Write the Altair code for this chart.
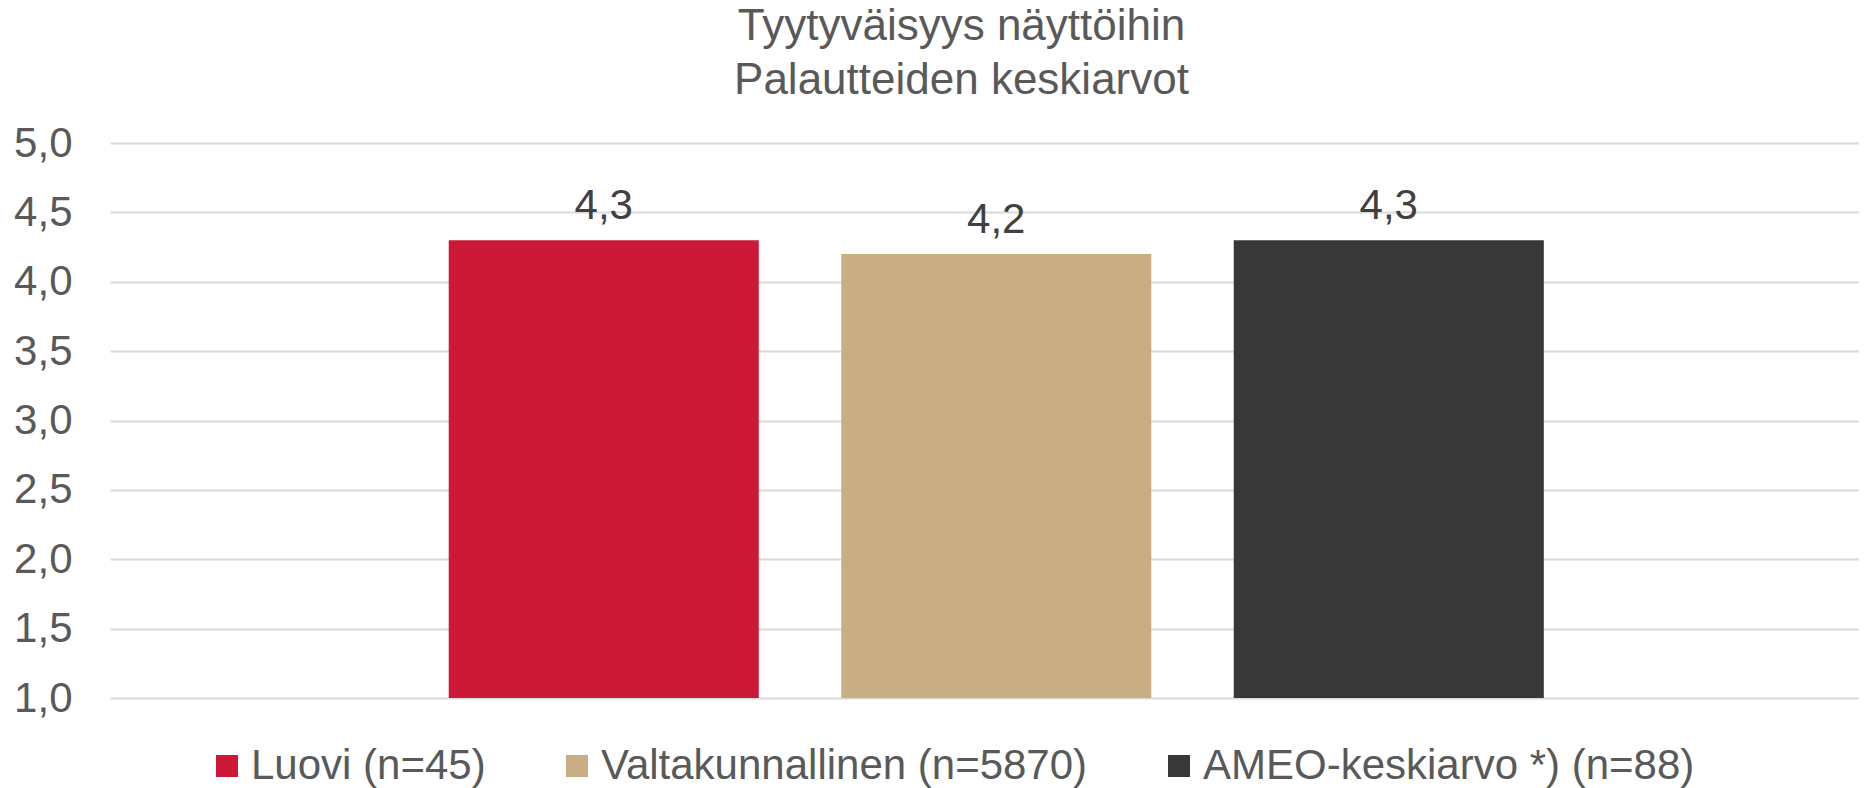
import altair as alt
import pandas as pd

# ---- data ----
series = ["Luovi (n=45)", "Valtakunnallinen (n=5870)", "AMEO-keskiarvo *) (n=88)"]
values = [4.3, 4.2, 4.3]
colors = ["#CC1937", "#C9AE84", "#383838"]
y_ticks = [1.0, 1.5, 2.0, 2.5, 3.0, 3.5, 4.0, 4.5, 5.0]
title_lines = ["Tyytyväisyys näyttöihin", "Palautteiden keskiarvot"]

df = pd.DataFrame({"sarja": series, "arvo": values})

FONT = "Liberation Sans"
GRAY = "#595959"

x_enc = alt.X(
    "sarja:N",
    sort=series,
    axis=None,
    scale=alt.Scale(paddingInner=0.21, paddingOuter=0.833, align=0.518),
)
y_scale = alt.Scale(domain=[1, 5], zero=False, nice=False)

bars = alt.Chart(df).mark_bar().encode(
    x=x_enc,
    y=alt.Y(
        "arvo:Q",
        scale=y_scale,
        axis=alt.Axis(
            values=y_ticks,
            title=None,
            labelExpr="replace(format(datum.value, '.1f'), '.', ',')",
            labelFontSize=42,
            labelFont=FONT,
            labelColor=GRAY,
            labelPadding=38,
            ticks=False,
            domain=False,
            grid=True,
            gridColor="#D9D9D9",
            gridWidth=2,
        ),
    ),
    y2=alt.datum(1),
    color=alt.Color(
        "sarja:N",
        sort=series,
        scale=alt.Scale(domain=series, range=colors),
        legend=alt.Legend(
            title=None,
            orient="none",
            legendX=96,
            legendY=602,
            direction="horizontal",
            symbolType="square",
            symbolSize=484,
            symbolStrokeWidth=0,
            labelFontSize=42,
            labelFont=FONT,
            labelColor=GRAY,
            labelOffset=3,
            columnPadding=70,
            padding=0,
            labelLimit=1000,
        ),
    ),
)

labels = alt.Chart(df).transform_calculate(
    teksti="replace(format(datum.arvo, '.1f'), '.', ',')"
).mark_text(
    baseline="alphabetic", dy=-21, fontSize=42, font=FONT, color="#404040"
).encode(
    x=x_enc,
    y=alt.Y("arvo:Q", scale=y_scale),
    text="teksti:N",
)

chart = alt.layer(bars, labels).properties(
    width=1749,
    height=555,
    title=alt.TitleParams(
        text=title_lines,
        fontSize=44,
        font=FONT,
        color=GRAY,
        fontWeight="normal",
        anchor="middle",
        dx=-23,
        offset=19,
        lineHeight=54,
    ),
    autosize=alt.AutoSizeParams(type="none"),
    padding={"left": 102, "top": 135, "right": 0, "bottom": 100},
).configure_view(stroke=None)

chart.save("out.html", embed_options={"renderer": "svg", "actions": False})
